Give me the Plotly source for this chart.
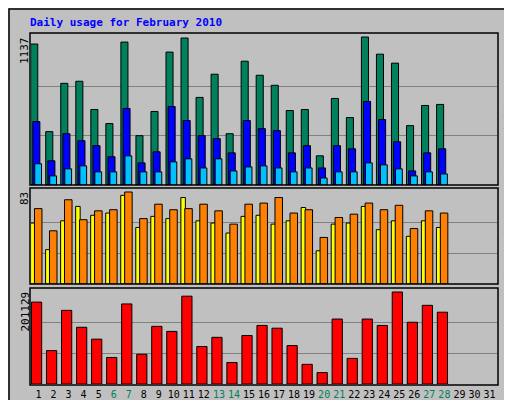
import plotly.graph_objects as go

days = list(range(1, 32))
data_days = list(range(1, 29))
hits = [1083,410,781,797,580,472,1098,379,565,1021,1129,673,851,394,951,843,766,572,580,224,665,518,1137,1005,936,456,611,619]
files = [487,186,394,340,302,217,588,170,255,603,495,379,356,247,495,433,418,247,302,131,302,278,642,503,332,108,247,278]
pages = [163,70,124,147,101,101,224,101,101,178,201,131,201,108,139,147,131,101,131,54,101,101,170,155,124,70,101,85]
sites = [55,31,57,70,62,64,80,51,61,59,78,57,55,46,61,62,54,57,69,30,54,55,70,49,57,43,57,51]
visits = [68,48,76,58,66,67,83,59,72,67,68,72,66,54,72,73,78,64,67,42,60,63,73,67,71,50,66,64]
kbytes = [179000,73000,161000,124000,98000,58000,175000,65000,126000,115000,192000,82000,102000,47000,106000,128000,122000,84000,43000,25000,142000,56000,142000,128000,201129,135000,172000,157000]
weekend = [6,7,13,14,20,21,27,28]
max_hits, max_visits, max_kb = 1137, 83, 201129

def py(p): return 1 - p / 400
def px(p): return p / 512

mono = "DejaVu Sans Mono"
fig = go.Figure()
ln = dict(color="black", width=1)
def bar(y, color, off, w, xa, ya):
    fig.add_trace(go.Bar(x=data_days, y=y, marker=dict(color=color, line=ln),
                         offset=off, width=w, xaxis=xa, yaxis=ya, showlegend=False))
bar(hits, "#00805C", -0.52, 0.47, "x", "y")
bar(files, "#0000FF", -0.38, 0.47, "x", "y")
bar(pages, "#00C0FF", -0.25, 0.45, "x", "y")
bar(sites, "#FFFF00", -0.53, 0.3, "x2", "y2")
bar(visits, "#FF8000", -0.27, 0.5, "x2", "y2")
bar(kbytes, "#FF0000", -0.47, 0.68, "x3", "y3")

xd = [px(23), px(489)]
tt = [f'<span style="color:{"#00805C" if d in weekend else "black"}">{d}</span>' for d in days]
common_x = dict(range=[0.5, 31.5], domain=xd, showgrid=False, zeroline=False, fixedrange=True)
def yax(dom, mx, top_px, base_px, maxtop_px):
    rng = mx * (base_px - top_px) / (base_px - maxtop_px)
    return dict(domain=dom, range=[0, rng], tickvals=[mx/3, 2*mx/3], showticklabels=False,
                gridcolor="#808080", gridwidth=1, zeroline=False, ticks="")
fig.update_layout(
    width=512, height=400, margin=dict(l=0, r=0, t=0, b=0),
    paper_bgcolor="#C0C0C0", plot_bgcolor="#C0C0C0", barmode="overlay",
    xaxis=dict(**common_x, anchor="y", showticklabels=False),
    xaxis2=dict(**common_x, anchor="y2", showticklabels=False),
    xaxis3=dict(**common_x, anchor="y3", tickvals=days, ticktext=tt, ticks="", tickangle=0,
                ticklabelstandoff=3, tickfont=dict(family=mono, size=10, color="black")),
    yaxis=yax([py(177), py(25)], max_hits, 25, 177, 29),
    yaxis2=yax([py(276), py(180)], max_visits, 180, 276, 184),
    yaxis3=yax([py(376), py(280)], max_kb, 280, 376, 284),
)
shapes = []
for t, b in [(25, 177), (180, 276), (280, 377)]:
    shapes.append(dict(type="rect", xref="paper", yref="paper", x0=px(22), x1=px(490),
                       y0=py(b), y1=py(t), line=dict(color="black", width=1.5)))
shapes.append(dict(type="rect", xref="paper", yref="paper", x0=px(1), x1=px(510), y0=py(397), y1=py(1),
                   line=dict(color="black", width=1.5)))
fig.update_layout(shapes=shapes)

ann = [
    dict(x=px(20), y=py(15), text="<b>Daily usage for February 2010</b>", xanchor="left", yanchor="middle",
         font=dict(family=mono, size=11, color="#0000FF")),
    dict(x=px(8), y=py(27), text="1137", textangle=-90, yanchor="top", xanchor="left"),
    dict(x=px(8), y=py(182), text="83", textangle=-90, yanchor="top", xanchor="left"),
    dict(x=px(8), y=py(282), text="201129", textangle=-90, yanchor="top", xanchor="left"),
    dict(x=px(492), y=py(167), textangle=-90, yanchor="bottom", xanchor="left",
         text='<span style="color:#00C0FF">Pages</span> / <span style="color:#0000FF">Files</span> / <span style="color:#00805C">Hits</span>'),
    dict(x=px(492), y=py(272), textangle=-90, yanchor="bottom", xanchor="left",
         text='<span style="color:#FF8000">Sites</span> / <span style="color:#DDDD00">Visits</span>'),
    dict(x=px(492), y=py(376), textangle=-90, yanchor="bottom", xanchor="left",
         text='<span style="color:#FF0000">KBytes</span>'),
]
for a in ann:
    a.setdefault("font", dict(family=mono, size=11, color="black"))
    a.update(xref="paper", yref="paper", showarrow=False)
fig.update_layout(annotations=ann)
fig.write_html("out.html")
